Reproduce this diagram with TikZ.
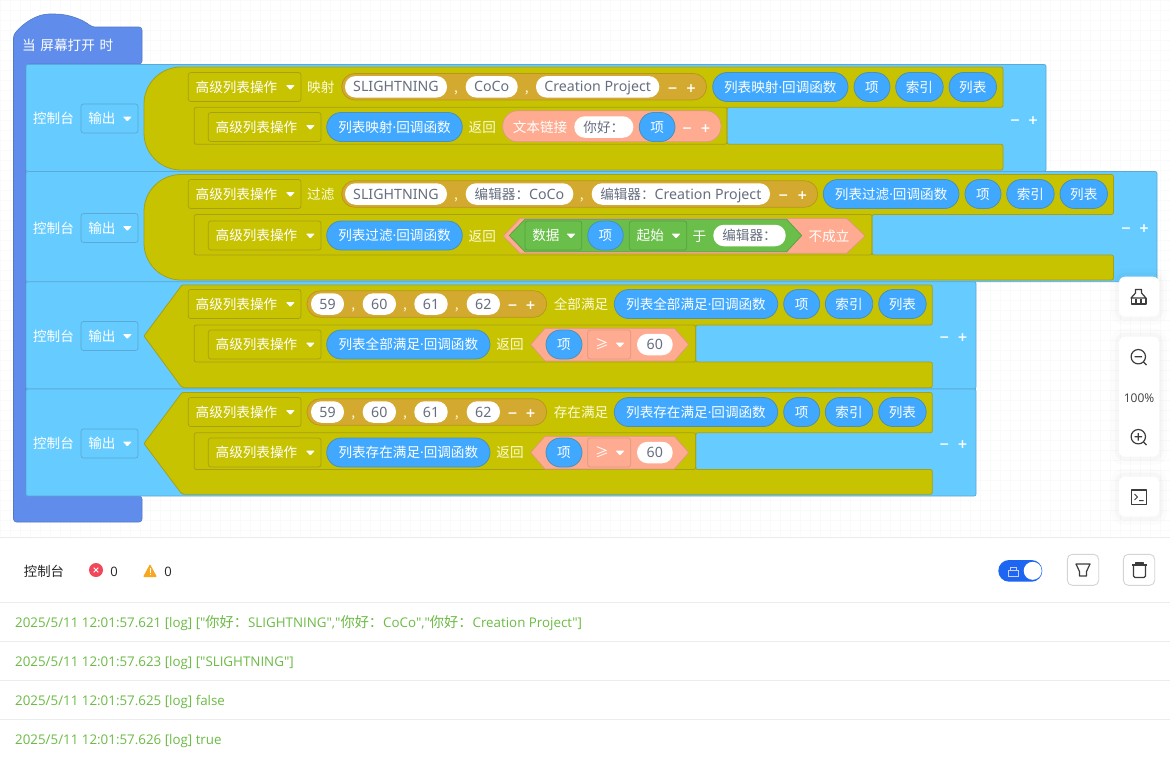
\documentclass[tikz,border=0pt]{standalone}
\usepackage{fontspec}
\setmainfont{Noto Sans CJK SC}
\newfontfamily\latinfont{Noto Sans}
\newfontfamily\logfont{Open Sans}
\newfontfamily\signfont{DejaVu Sans}
\usetikzlibrary{calc}

\definecolor{hatblue}{HTML}{608DEB}
\definecolor{consoleblue}{HTML}{66CCFF}
\definecolor{consoleline}{HTML}{5AA9D6}
\definecolor{stackolive}{HTML}{C8C300}
\definecolor{oliveline}{HTML}{A5A015}
\definecolor{listgold}{HTML}{D4A92F}
\definecolor{goldline}{HTML}{B7951F}
\definecolor{itemblue}{HTML}{40A9FF}
\definecolor{itemline}{HTML}{4C90B4}
\definecolor{salmon}{HTML}{FFAB91}
\definecolor{salmonline}{HTML}{DB9A7E}
\definecolor{logicgreen}{HTML}{6ABF4B}
\definecolor{greenline}{HTML}{58A040}
\definecolor{paleword}{HTML}{FBFBD8}
\definecolor{fieldword}{HTML}{666E80}
\definecolor{logword}{HTML}{6CBB45}
\definecolor{ruleline}{HTML}{ECECEC}
\definecolor{icondark}{HTML}{3C3C3C}
\definecolor{errorred}{HTML}{F0485A}
\definecolor{warnorange}{HTML}{F7A823}
\definecolor{toggleblue}{HTML}{1C66F2}

\newcommand{\blockfont}{\fontsize{13.6}{16}\selectfont}
\newcommand{\fieldfont}{\latinfont\fontsize{14.2}{16}\selectfont}
\newcommand{\logcjk}{\rmfamily\fontsize{14.2}{16}\selectfont}

\tikzset{
	hat/.style = {draw = hatblue!85!black, fill = hatblue, line width = 0.6pt},
	consolebody/.style = {draw = consoleline, fill = consoleblue, rounded corners = 2pt, line width = 0.8pt},
	stackbody/.style = {draw = oliveline, fill = stackolive, line width = 0.8pt},
	stackline/.style = {draw = oliveline, rounded corners = 2pt, line width = 0.8pt},
	whiteword/.style = {text = white},
	oliveword/.style = {text = paleword},
	dropbase/.style = {rounded corners = 2.5pt, minimum height = 29pt, line width = 0.7pt},
	olivedrop/.style = {dropbase, draw = oliveline, fill = stackolive},
	bluedrop/.style = {dropbase, draw = consoleline, fill = consoleblue},
	greendrop/.style = {dropbase, draw = greenline, fill = logicgreen},
	salmondrop/.style = {dropbase, draw = salmonline, fill = salmon},
	itempill/.style = {draw = itemline, fill = itemblue, text = white, rounded corners = 14.5pt, minimum height = 29pt, line width = 0.8pt},
	listpill/.style = {draw = goldline, fill = listgold, rounded corners = 13pt, minimum height = 26.5pt, line width = 0.7pt},
	joinpill/.style = {draw = salmonline, fill = salmon, rounded corners = 15pt, minimum height = 31pt, line width = 0.7pt},
	fieldpill/.style = {fill = white, text = fieldword, rounded corners = 10.5pt, minimum height = 21.5pt},
	logline/.style = {anchor = west, text = logword, font = \logfont\fontsize{13.35}{15}\selectfont},
	rule/.style = {draw = ruleline, line width = 0.8pt},
	icon/.style = {draw = icondark, line width = 1.2pt, line join = round},
	iconbutton/.style = {draw = black!17, fill = white, rounded corners = 5pt, line width = 0.9pt},
}

% a box from x = #3 to x = #4, centred on y = #5
\newcommand{\chip}[6]{\node [#1, minimum width = {#4-(#3)}] (#2) at ({(#3+#4)/2},{#5}) {#6};}

\newcommand{\dropdown}[6]{
	\chip{#1}{#2}{#3}{#4}{#5}{}
	\node [anchor = west, text = white] (#2 word) at ($(#2.west)+(7.5,0)$) {#6};
	\fill [white, rounded corners = 0.8pt] ($(#2.east)+(-15.5,-2)$) -- ++(9,0) -- ++(-4.5,5) -- cycle;
}

\newcommand{\addremove}[4]{
	\node [text = white] (#1 minus) at ({#2},{#4}) {\signfont\bfseries\fontsize{12.5}{16}\selectfont −};
	\node [text = white] (#1 plus) at ({#3},{#4}) {\signfont\bfseries\fontsize{12.5}{16}\selectfont +};
}

% name, top, bottom, right, middle
\newcommand{\consolerow}[5]{
	\draw [consolebody] (26,#2) rectangle (#4,#3);
	\node [whiteword] (#1 console) at (53.5,#5) {控制台};
	\dropdown{bluedrop}{#1 output}{81}{138}{#5}{输出}
}

% top, lower edge, bar top, bottom, right, notch, left part of the outline
\newcommand{\stack}[7]{
	\draw [stackbody, rounded corners = 2pt] (260,#1) -- (#5,#1) -- (#5,#2) -- (#6,#2) -- (#6,#3) -- (#5,#3) -- (#5,#4) -- (260,#4) #7;
	\draw [stackline] (194.3,#2) rectangle (#6,#3);
}

\newcommand{\threeitems}[5]{
	\chip{itempill}{#1 item}{#2}{#2+36}{#5}{项}
	\chip{itempill}{#1 index}{#3}{#3+47.5}{#5}{索引}
	\chip{itempill}{#1 array}{#4}{#4+47.5}{#5}{列表}
}

% the two lower rows differ in offset, word and callback only
\newcommand{\checkrow}[4]{
	\dropdown{olivedrop}{#1 head}{188.3}{301}{304+#2}{高级列表操作}
	\chip{listpill}{#1 list}{307}{546.7}{304+#2}{}
	\chip{fieldpill}{#1 a}{311}{344}{304+#2}{\fieldfont 59}
	\node [oliveword] (#1 comma a) at (353.3,{304+#2}) {,};
	\chip{fieldpill}{#1 b}{362.7}{396}{304+#2}{\fieldfont 60}
	\node [oliveword] (#1 comma b) at (405,{304+#2}) {,};
	\chip{fieldpill}{#1 c}{414.3}{447.7}{304+#2}{\fieldfont 61}
	\node [oliveword] (#1 comma c) at (456.7,{304+#2}) {,};
	\chip{fieldpill}{#1 d}{466.7}{500}{304+#2}{\fieldfont 62}
	\addremove{#1 list}{512.7}{530.7}{304+#2}
	\node [oliveword] (#1 word) at (581,{304+#2}) {#3};
	\chip{itempill}{#1 callback}{614.3}{777.7}{304+#2}{#4}
	\threeitems{#1}{783.7}{825.3}{878.7}{304+#2}
	\dropdown{olivedrop}{#1 tail}{208.3}{321}{344.5+#2}{高级列表操作}
	\chip{itempill}{#1 reply}{326.7}{490}{344.5+#2}{#4}
	\node [oliveword] (#1 return) at (510,{344.5+#2}) {返回};
	\fill [salmon, draw = salmonline, line width = 0.7pt] (530.7,{344.5+#2}) -- (545,{328.3+#2}) -- (674.3,{328.3+#2}) -- (688.7,{344.5+#2}) -- (674.3,{361+#2}) -- (545,{361+#2}) -- cycle;
	\chip{itempill}{#1 value}{546}{582}{344.5+#2}{项}
	\dropdown{salmondrop}{#1 compare}{587.7}{630.7}{344.5+#2}{≥}
	\chip{fieldpill}{#1 limit}{637}{672.7}{344.5+#2}{\fieldfont 60}
}

\newcommand{\sidecard}[3]{
	\fill [black, opacity = 0.012, rounded corners = 12pt] (1111,#2-8) rectangle (1167,#3+8);
	\fill [black, opacity = 0.018, rounded corners = 9pt] (1115,#2-4) rectangle (1163,#3+4);
	\fill [white, rounded corners = 6pt] (1119,#2) rectangle (1159,#3) coordinate (#1 corner);
}

\begin{document}
\begin{tikzpicture}[x = 1pt, y = -1pt, every node/.style = {inner sep = 0pt, text height = 12pt, text depth = 2pt, font = \blockfont}]
		\useasboundingbox (0,0) rectangle (1170,756);
		\fill [white] (0,0) rectangle (1170,756);
		\draw [black!2, line width = 0.4pt, step = 10pt] (0,0) grid (1170,537);
		
		% hat and spine
		\draw [hat, rounded corners = 3pt] (13.5,35) .. controls (24,22) and (38,14) .. (52,14) .. controls (68,14) and (82,19) .. (92,27) -- (142,27) -- (142,64) -- (26,64) -- (26,496) -- (142,496) -- (142,522) -- (13.5,522) -- cycle;
		\node [anchor = west, whiteword] (hat word) at (22,45) {\spaceskip = 4.7pt 当 屏幕打开 时};
		
		\consolerow{map}{64.5}{171.5}{1046}{118.5}
		\consolerow{filter}{171.5}{281.7}{1157}{228}
		\consolerow{every}{281.7}{389}{976}{336}
		\consolerow{some}{389}{496}{976}{443.5}
		
		\stack{67}{107.3}{144.3}{170}{1003}{727}{[rounded corners = 37pt] -- (144,170) -- (144,67) -- (260,67)}
		\stack{174.5}{214.5}{255}{280}{1113.5}{872}{[rounded corners = 37pt] -- (144,280) -- (144,174.5) -- (260,174.5)}
		\stack{285}{325}{362}{387.7}{932.3}{695.7}{-- (182,387.7) [rounded corners = 1pt] -- (144,336) -- (182,285) -- (260,285)}
		\stack{392.5}{432.7}{469.5}{494.3}{932.3}{695.7}{-- (182,494.3) [rounded corners = 1pt] -- (144,443.5) -- (182,392.5) -- (260,392.5)}
		
		% map
		\dropdown{olivedrop}{map head}{188.3}{301}{87}{高级列表操作}
		\node [oliveword] (map word) at (320.8,87) {映射};
		\chip{listpill}{map list}{341.7}{706.5}{86.7}{}
		\chip{fieldpill}{map a}{345}{447}{86.8}{\fieldfont SLIGHTNING}
		\node [oliveword] (map comma a) at (456,87) {,};
		\chip{fieldpill}{map b}{465.7}{517.7}{86.8}{\fieldfont CoCo}
		\node [oliveword] (map comma b) at (526.7,87) {,};
		\chip{fieldpill}{map c}{536}{659.3}{86.8}{\fieldfont Creation Project}
		\addremove{map list}{672.7}{691}{87}
		\chip{itempill}{map callback}{712.7}{848}{87}{列表映射{\latinfont ·}回调函数}
		\threeitems{map}{854}{895.7}{949}{87}
		\dropdown{olivedrop}{map tail}{208.3}{321}{127}{高级列表操作}
		\chip{itempill}{map reply}{326.7}{462.3}{127}{列表映射{\latinfont ·}回调函数}
		\node [oliveword] (map return) at (482.3,127) {返回};
		\chip{joinpill}{map join}{502.7}{721}{126.3}{}
		\node [whiteword] (map join word) at (540,127) {文本链接};
		\chip{fieldpill}{map hello}{574.3}{633.3}{127}{你好：}
		\chip{itempill}{map value}{639.3}{675}{127}{项}
		\addremove{map join}{687}{705.7}{127}
		\addremove{map}{1015}{1033}{119}
		
		% filter
		\dropdown{olivedrop}{filter head}{188.3}{301}{194}{高级列表操作}
		\node [oliveword] (filter word) at (320.8,194) {过滤};
		\chip{listpill}{filter list}{341.7}{817.7}{194}{}
		\chip{fieldpill}{filter a}{345}{447}{194}{\fieldfont SLIGHTNING}
		\node [oliveword] (filter comma a) at (456,194) {,};
		\chip{fieldpill}{filter b}{465.7}{573.3}{194}{编辑器：\fieldfont CoCo}
		\node [oliveword] (filter comma b) at (581.7,194) {,};
		\chip{fieldpill}{filter c}{591.7}{770}{194}{编辑器：\fieldfont Creation Project}
		\addremove{filter list}{783.3}{802.3}{194}
		\chip{itempill}{filter callback}{823.3}{959}{194}{列表过滤{\latinfont ·}回调函数}
		\threeitems{filter}{965}{1006.7}{1060}{194}
		\dropdown{olivedrop}{filter tail}{208.3}{321}{235.5}{高级列表操作}
		\chip{itempill}{filter reply}{326.7}{462.3}{235.5}{列表过滤{\latinfont ·}回调函数}
		\node [oliveword] (filter return) at (482.3,236) {返回};
		\fill [salmon, draw = salmonline, line width = 0.7pt] (503.3,236) -- (520,218.3) -- (846.7,218.3) -- (865,236) -- (846.7,253.3) -- (520,253.3) -- cycle;
		\fill [logicgreen, draw = greenline, line width = 0.7pt] (509.3,235.5) -- (525,219.3) -- (786.7,219.3) -- (801.7,235.5) -- (786.7,251.7) -- (525,251.7) -- cycle;
		\dropdown{greendrop}{filter data}{525}{581.7}{235.5}{数据}
		\chip{itempill}{filter value}{587.7}{623.3}{235.5}{项}
		\dropdown{greendrop}{filter start}{629.3}{686.7}{235.5}{起始}
		\node [whiteword] (filter at) at (699.3,236) {于};
		\chip{fieldpill}{filter editor}{713.3}{785.7}{235.5}{编辑器：}
		\node [whiteword] (filter not) at (829,236) {不成立};
		\addremove{filter}{1126}{1144}{227}
		
		% every and some
		\checkrow{every}{0}{全部满足}{列表全部满足{\latinfont ·}回调函数}
		\addremove{every}{944.3}{962.7}{336}
		\checkrow{some}{108}{存在满足}{列表存在满足{\latinfont ·}回调函数}
		\addremove{some}{944.3}{962.7}{443.5}
		
		% side buttons
		\sidecard{clean}{276.7}{316.7}
		\sidecard{zoom}{336.7}{456.7}
		\sidecard{terminal}{476.7}{516.7}
		\draw [icon] (1135.5,293) -- (1135.5,289.5) -- (1141.5,289.5) -- (1141.5,293) -- (1146,298) -- (1131,298) -- cycle;
		\draw [icon] (1131.5,298) -- (1131.5,304) -- (1146,304) -- (1146,298);
		\draw [icon] (1136,299) -- (1136,304) (1141,299) -- (1141,304);
		\draw [icon] (1138.3,356.7) circle [radius = 7.2];
		\draw [icon] (1143.5,362) -- (1146.5,365) (1134.5,356.7) -- (1142,356.7);
		\node [text = black!75] (zoom percent) at (1139,397.5) {\logfont\fontsize{12}{14}\selectfont 100\%};
		\draw [icon] (1138.3,436.7) circle [radius = 7.2];
		\draw [icon] (1143.5,442) -- (1146.5,445) (1134.5,436.7) -- (1142,436.7) (1138.3,433) -- (1138.3,440.5);
		\draw [icon] (1131.8,490) rectangle (1146.7,504.3);
		\draw [icon, line width = 1pt] (1134.5,494) -- (1137.5,497) -- (1134.5,500) (1139,500.5) -- (1143.5,500.5);
		
		% console panel
		\fill [white] (0,537) rectangle (1170,756);
		\draw [rule] (0,537.3) -- (1170,537.3);
		\draw [rule] (0,602.3) -- (1170,602.3);
		\draw [rule] (0,641.3) -- (1170,641.3);
		\draw [rule] (0,680.3) -- (1170,680.3);
		\draw [rule] (0,719.3) -- (1170,719.3);
		
		\node [text = black!85] (panel title) at (44,571) {\fontsize{13.4}{16}\selectfont 控制台};
		\fill [errorred] (96,570) circle [radius = 7];
		\draw [white, line width = 0.9pt] (93.7,567.7) -- (98.3,572.3) (93.7,572.3) -- (98.3,567.7);
		\node [text = black!85] (error count) at (114,571) {\logfont\fontsize{13}{16}\selectfont 0};
		\fill [warnorange, rounded corners = 1pt] (143,577) -- (150,564) -- (157,577) -- cycle;
		\draw [white, line width = 1pt] (150,568) -- (150,572.5) (150,574) -- (150,575.3);
		\node [text = black!85] (warning count) at (168,571) {\logfont\fontsize{13}{16}\selectfont 0};
		
		\fill [toggleblue, rounded corners = 10.8pt] (998.3,560) rectangle (1042.3,581.7);
		\fill [white] (1032.7,570.8) circle [radius = 9];
		\draw [blue!20!white, line width = 0.9pt] (1008.5,570.3) rectangle (1018,576.2) (1010.5,570.3) -- (1010.5,567.5) -- (1016,567.5) -- (1016,570.3);
		\draw [iconbutton] (1067.3,554.3) rectangle (1098.7,585.3);
		\draw [icon] (1076,564) -- (1090,564) -- (1086.5,571.5) -- (1086.5,576) -- (1079.5,576) -- (1079.5,571.5) -- cycle;
		\draw [iconbutton] (1123.3,554.3) rectangle (1154.7,585.3);
		\draw [icon] (1132.3,565) -- (1146.7,565) (1135.5,565) -- (1135.5,563) -- (1143.5,563) -- (1143.5,565);
		\draw [icon, rounded corners = 1.5pt] (1133.5,565) -- (1133.5,577.5) -- (1145.5,577.5) -- (1145.5,565);
		
		\node [logline] (log a) at (15,622) {2025/5/11 12:01:57.621 [log] ["{\logcjk 你好：}SLIGHTNING","{\logcjk 你好：}CoCo","{\logcjk 你好：}Creation Project"]};
		\node [logline] (log b) at (15,661) {2025/5/11 12:01:57.623 [log] ["SLIGHTNING"]};
		\node [logline] (log c) at (15,700) {2025/5/11 12:01:57.625 [log] false};
		\node [logline] (log d) at (15,739) {2025/5/11 12:01:57.626 [log] true};
	\end{tikzpicture}
\end{document}
